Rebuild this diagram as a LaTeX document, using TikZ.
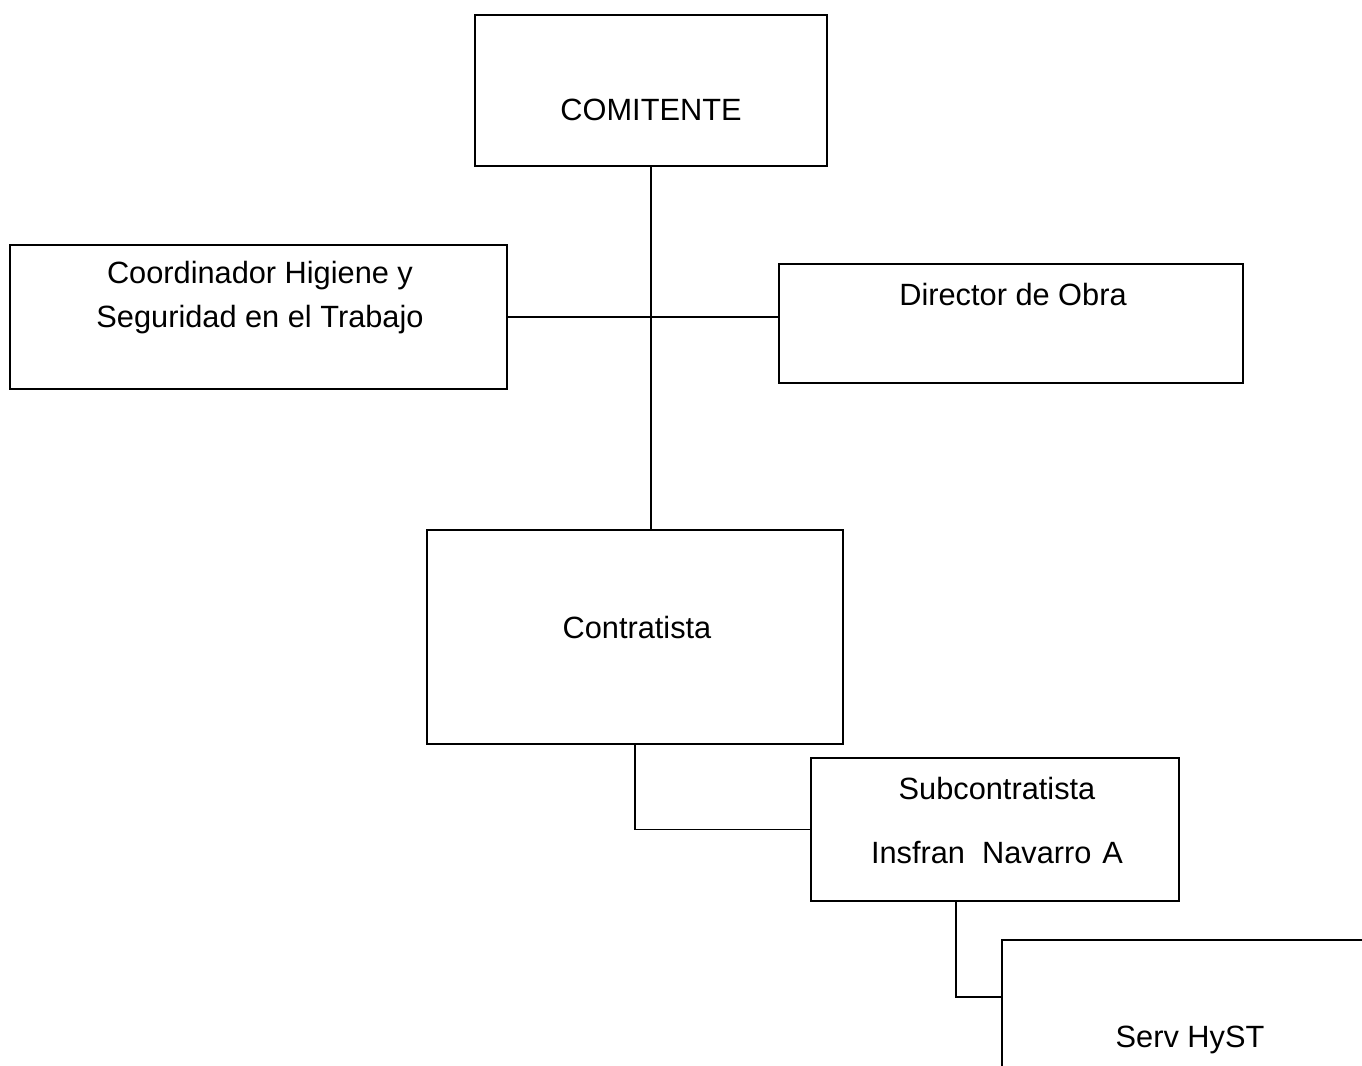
\documentclass[tikz,border=0pt]{standalone}
\usepackage{fontspec}
\setmainfont{Liberation Sans}

\tikzset{
	box/.style={draw, line width=1.1pt, rectangle, inner sep=0pt},
	lbl/.style={inner sep=0pt, align=center, font=\fontsize{17.5}{25}\selectfont}
}

\begin{document}
\begin{tikzpicture}[x=0.02cm, y=-0.02cm, line width=1.1pt]
	\useasboundingbox (0,0) rectangle (1362,1065);
	\clip (0,0) rectangle (1362,1065);
	\node[box, minimum width=7.04cm, minimum height=3.02cm] (comitente) at (651,90.5) {};
	\node[box, minimum width=9.94cm, minimum height=2.88cm] (coord) at (258.5,317) {};
	\node[box, minimum width=9.28cm, minimum height=2.38cm] (director) at (1011,323.5) {};
	\node[box, minimum width=8.32cm, minimum height=4.28cm] (contratista) at (635,637) {};
	\node[box, minimum width=7.36cm, minimum height=2.86cm] (sub) at (995,829.5) {};
	\node[box, minimum width=8cm, minimum height=4cm] (serv) at (1202,1040) {};
	\node[lbl] (comitentetxt) at (651,110) {COMITENTE};
	\node[lbl] (coordtxt) at (260,298) {Coordinador Higiene y\\Seguridad en el Trabajo};
	\node[lbl] (directortxt) at (1013,295) {Director de Obra};
	\node[lbl] (contratistatxt) at (637,628) {Contratista};
	\node[lbl] (subtxt) at (997,788) {Subcontratista};
	\node[lbl] (subnametxt) at (997,853) {Insfran~ Navarro\hspace{0.08em} A};
	\node[lbl] (servtxt) at (1190,1040) {Serv HyST};
	\coordinate (subfoot) at (956,901);
	\coordinate (servin) at (1002,997);
	\draw (comitente.south) -- (comitente.south |- contratista.north);
	\draw (coord.east) -- (coord.east -| director.west);
	\draw (contratista.south) |- (sub.west);
	\draw (subfoot) |- (servin);
\end{tikzpicture}
\end{document}
